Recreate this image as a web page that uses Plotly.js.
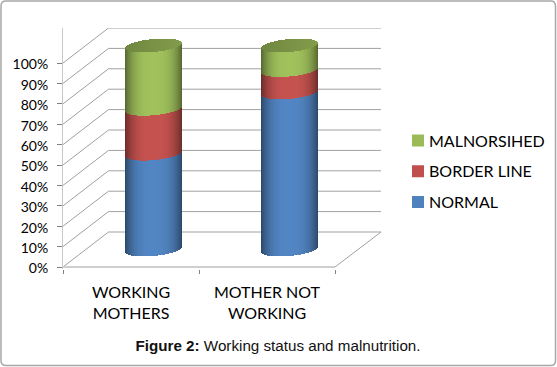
<!DOCTYPE html>
<html><head><meta charset="utf-8">
<script src="https://cdn.plot.ly/plotly-3.0.1.min.js"></script>
<style>html,body{margin:0;padding:0;background:#fff}</style></head>
<body><div id="chart" style="width:557px;height:367px"></div>
<script>
// ---- data ----
const categories = ['WORKING<br>MOTHERS', 'MOTHER NOT<br>WORKING'];
const normal = [47, 77];
const borderLine = [22, 11];
const malnourished = [31, 12];
const yTickVals = [0,10,20,30,40,50,60,70,80,90,100];
const yTickText = ['0%','10%','20%','30%','40%','50%','60%','70%','80%','90%','100%'];
const seriesNames = ['NORMAL','BORDER LINE','MALNORSIHED'];
const seriesColors = [[79,129,189],[192,80,77],[155,187,89]];

// ---- style / oblique projection constants ----
const W=557,H=367, L=63,R=381,T=28,B=269;
const pxPerCat=136, pxPerVal=2.04;
const depthX=45.5/pxPerCat, depthY=35/pxPerVal;
const cylW=57, strips=57, tilt=2.5/pxPerVal, minor=6.5/pxPerVal;
const xMin=-0.5, xMax=xMin+(R-L)/pxPerCat, yMin=-(B-267)/pxPerVal, yMax=yMin+(B-T)/pxPerVal;

const ts=[]; for(let i=0;i<strips;i++) ts.push((i+0.5-strips/2)/(strips/2));
const shade=t=>0.55+0.48*(1-Math.pow(Math.abs(t),3));
// start with the strip closest to the plain series colour: the legend swatch takes the first bar's colour
const order=ts.slice().sort((a,b)=>Math.abs(shade(a)-1)-Math.abs(shade(b)-1));
const rgb=(c,f)=>'rgb('+c.map(v=>Math.min(255,Math.round(v*f))).join(',')+')';
const front=(v,t)=>v+depthY/2+tilt*t-minor*Math.sqrt(1-t*t);
const back=(v,t)=>v+depthY/2+tilt*t+minor*Math.sqrt(1-t*t);
const sx=(c,t)=>c+depthX/2+(t*cylW/2)/pxPerCat;

const seriesVals=[normal,borderLine,malnourished];
const traces=[];
const starts=[0,0];
seriesVals.forEach((vals,s)=>{
  const x=[],base=[],y=[],color=[];
  vals.forEach((v,c)=>{
    order.forEach(t=>{
      x.push(sx(c,t));
      const a=front(starts[c],t);
      const b=front(starts[c]+v,t);
      base.push(a); y.push(b-a); color.push(rgb(seriesColors[s],shade(t)));
    });
    starts[c]+=v;
  });
  // unshift so the legend lists MALNORSIHED first, NORMAL last
  traces.unshift({type:'bar',name:seriesNames[s],x,y,base,width:1/pxPerCat,
    marker:{color,line:{width:0}},legendgroup:seriesNames[s],hoverinfo:'skip'});
});
// top caps of the cylinders
{
  const x=[],base=[],y=[],color=[];
  starts.forEach((v,c)=>ts.forEach(t=>{
    x.push(sx(c,t)); base.push(front(v,t)); y.push(back(v,t)-front(v,t));
    color.push(rgb(seriesColors[2],0.72+0.12*(t+1)/2));
  }));
  traces.push({type:'bar',name:'top',x,y,base,width:1/pxPerCat,showlegend:false,
    marker:{color,line:{width:0}},hoverinfo:'skip'});
}
// helper for axis category ticks (real category labels on the axis)
traces.push({type:'scatter',mode:'none',x:[0,1],y:[0,0],showlegend:false,hoverinfo:'skip'});

const shapes=[];
const gridColor='#a0a0a0';
yTickVals.forEach(v=>{
  shapes.push({type:'path',layer:'below',xref:'x',yref:'y',
    path:`M${xMin},${v} L${xMin+depthX},${v+depthY} L${xMax},${v+depthY}`,
    line:{color:gridColor,width:1}});
});
shapes.push({type:'path',layer:'below',xref:'x',yref:'y',
  path:`M1.5,0 L${xMax},${depthY}`,line:{color:gridColor,width:1}});
shapes.push({type:'line',layer:'below',xref:'x',yref:'y',x0:xMin,x1:1.5,y0:0,y1:0,
  line:{color:'#cfcfcf',width:2}});
// outer rounded frame
const px=p=>(p-L)/(R-L), py=p=>(B-p)/(B-T);
const fx0=1,fx1=555.5,fy0=1,fy1=365.5,r=5;
shapes.push({type:'path',layer:'below',xref:'paper',yref:'paper',
  path:`M${px(fx0+r)},${py(fy0)} L${px(fx1-r)},${py(fy0)} Q${px(fx1)},${py(fy0)} ${px(fx1)},${py(fy0+r)} L${px(fx1)},${py(fy1-r)} Q${px(fx1)},${py(fy1)} ${px(fx1-r)},${py(fy1)} L${px(fx0+r)},${py(fy1)} Q${px(fx0)},${py(fy1)} ${px(fx0)},${py(fy1-r)} L${px(fx0)},${py(fy0+r)} Q${px(fx0)},${py(fy0)} ${px(fx0+r)},${py(fy0)} Z`,
  line:{color:'#a8a8a8',width:1.5}});

const layout={
  width:W,height:H,paper_bgcolor:'#fff',plot_bgcolor:'rgba(0,0,0,0)',
  margin:{l:L,r:W-R,t:T,b:H-B,pad:0,autoexpand:false},
  barmode:'overlay',bargap:0,
  font:{family:'Lato, sans-serif',color:'#000'},
  title:{text:'<b>Figure 2:</b> Working status and malnutrition.',
    font:{family:'Liberation Sans, Arial, sans-serif',size:15.2,color:'#111'},
    x:278/W,xanchor:'center',xref:'container',y:1-346/H,yref:'container',yanchor:'middle'},
  xaxis:{range:[xMin,xMax],tickmode:'array',tickvals:[0,1],ticktext:categories,ticks:'',
    ticklabelstandoff:12,tickfont:{size:16},showgrid:false,zeroline:false,showline:false,fixedrange:true,
    minor:{tickmode:'array',tickvals:[-0.5,0.5,1.5],ticks:'outside',ticklen:4,tickcolor:'#808080',tickwidth:1,showgrid:false}},
  yaxis:{range:[yMin,yMax],tickmode:'array',tickvals:yTickVals,ticktext:yTickText,ticks:'outside',ticklen:5,
    tickcolor:'#808080',tickwidth:1,ticklabelstandoff:6,tickfont:{size:14},showgrid:false,zeroline:false,
    showline:true,linecolor:'#c8c8c8',linewidth:1,fixedrange:true},
  legend:{x:px(389),xanchor:'left',y:py(123.5),yanchor:'top',traceorder:'grouped',tracegroupgap:7,
    font:{size:16},bgcolor:'rgba(0,0,0,0)'},
  shapes,showlegend:true
};
Plotly.newPlot('chart',traces,layout,{displayModeBar:false,staticPlot:true}).then(gd=>{
  // legend swatches sit closer to their labels in the reference
  gd.querySelectorAll('.legendsymbols').forEach(g=>g.setAttribute('transform','translate(9,0)'));
  // y tick labels sit slightly lower in the reference
  gd.querySelectorAll('.ytick text').forEach(t=>t.setAttribute('y',parseFloat(t.getAttribute('y'))+1.5));
});
</script></body></html>
